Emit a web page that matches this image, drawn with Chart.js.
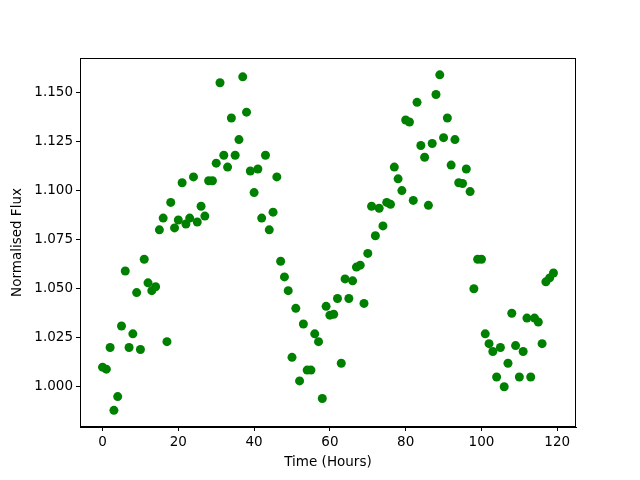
<!DOCTYPE html>
<html>
<head>
<meta charset="utf-8">
<script src="https://cdn.jsdelivr.net/npm/chart.js@4.4.0/dist/chart.umd.min.js"></script>
<style>
  html, body { margin: 0; padding: 0; background: #fff; }
  #wrap { width: 640px; height: 480px; }
</style>
</head>
<body>
<div id="wrap"><canvas id="fluxChart" width="640" height="480"></canvas></div>
<script>
// Time of each sample (hours)
const hours = [
  0, 1, 2, 3, 4, 5, 6, 7, 8, 9, 10, 11, 12, 13, 14, 15, 16, 17, 18, 19,
  20, 21, 22, 23, 24, 25, 26, 27, 28, 29, 30, 31, 32, 33, 34, 35, 36, 37, 38, 39,
  40, 41, 42, 43, 44, 45, 46, 47, 48, 49, 50, 51, 52, 53, 54, 55, 56, 57, 58, 59,
  60, 61, 62, 63, 64, 65, 66, 67, 68, 69, 70, 71, 72, 73, 74, 75, 76, 77, 78, 79,
  80, 81, 82, 83, 84, 85, 86, 87, 88, 89, 90, 91, 92, 93, 94, 95, 96, 97, 98, 99,
  100, 101, 102, 103, 104, 105, 106, 107, 108, 109, 110, 111, 112, 113, 114, 115, 116, 117, 118, 119
];

// Normalised flux
const flux = [
  1.010, 1.009, 1.020, 0.988, 0.995, 1.031, 1.059, 1.020, 1.027, 1.048,
  1.019, 1.065, 1.053, 1.049, 1.051, 1.080, 1.086, 1.023, 1.094, 1.081,
  1.085, 1.104, 1.083, 1.086, 1.107, 1.084, 1.092, 1.087, 1.105, 1.105,
  1.114, 1.155, 1.118, 1.112, 1.137, 1.118, 1.126, 1.158, 1.140, 1.110,
  1.099, 1.111, 1.086, 1.118, 1.080, 1.089, 1.107, 1.064, 1.056, 1.049,
  1.015, 1.040, 1.003, 1.032, 1.0085, 1.0085, 1.027, 1.023, 0.994, 1.041,
  1.0365, 1.037, 1.045, 1.012, 1.055, 1.045, 1.054, 1.061, 1.062, 1.0425,
  1.068, 1.092, 1.077, 1.091, 1.082, 1.094, 1.093, 1.112, 1.106, 1.100,
  1.136, 1.135, 1.095, 1.145, 1.123, 1.117, 1.0925, 1.124, 1.149, 1.159,
  1.127, 1.137, 1.113, 1.126, 1.104, 1.1036, 1.111, 1.0995, 1.050, 1.065,
  1.065, 1.027, 1.022, 1.018, 1.005, 1.020, 1.000, 1.012, 1.0375, 1.021,
  1.005, 1.018, 1.035, 1.005, 1.035, 1.033, 1.022, 1.0535, 1.0555, 1.058
];

// Tick labels
const xTicks = [0, 20, 40, 60, 80, 100, 120];
const yTicks = [1.000, 1.025, 1.050, 1.075, 1.100, 1.125, 1.150];

const points = hours.map((h, i) => ({ x: h, y: flux[i] }));

// black box around the plot area, like matplotlib's spines
const frame = {
  id: 'frame',
  afterDraw(chart) {
    const a = chart.chartArea;
    const c = chart.ctx;
    c.save();
    c.strokeStyle = '#000';
    c.lineWidth = 1;
    c.strokeRect(Math.round(a.left) + 0.5, Math.round(a.top) + 0.5,
                 Math.round(a.right - a.left) - 1, Math.round(a.bottom - a.top) - 1);
    c.restore();
  }
};

const font = { family: 'DejaVu Sans', size: 13.5 };

const ctx = document.getElementById('fluxChart').getContext('2d');
const fluxChart = new Chart(ctx, {
  type: 'scatter',
  data: {
    datasets: [{
      data: points,
      backgroundColor: '#008000',
      borderColor: '#008000',
      borderWidth: 0,
      pointRadius: 4.5,
      pointHoverRadius: 4.5
    }]
  },
  options: {
    responsive: false,
    animation: false,
    devicePixelRatio: 1,
    layout: { padding: { top: 58, right: 64, left: 0, bottom: 0 } },
    plugins: {
      legend: { display: false },
      tooltip: { enabled: false }
    },
    scales: {
      x: {
        type: 'linear',
        min: -5.95,
        max: 124.95,
        afterBuildTicks: s => { s.ticks = xTicks.map(v => ({ value: v })); },
        afterFit: s => { s.height = 53; },
        grid: { display: true, drawOnChartArea: false, drawTicks: true, tickLength: 4, color: '#000' },
        border: { display: true, color: '#000' },
        ticks: { color: '#000', font: font, padding: 3, maxRotation: 0 },
        title: { display: true, text: 'Time (Hours)', color: '#000', font: font, padding: { top: 0, bottom: 9 } }
      },
      y: {
        type: 'linear',
        min: 0.9795,
        max: 1.1676,
        afterBuildTicks: s => { s.ticks = yTicks.map(v => ({ value: v })); },
        afterFit: s => { s.width = 80; },
        grid: { display: true, drawOnChartArea: false, drawTicks: true, tickLength: 4, color: '#000' },
        border: { display: true, color: '#000' },
        ticks: { color: '#000', font: font, padding: 3, callback: v => v.toFixed(3) },
        title: { display: true, text: 'Normalised Flux', color: '#000', font: font, padding: { top: 9, bottom: 0 } }
      }
    }
  },
  plugins: [frame]
});
</script>
</body>
</html>
